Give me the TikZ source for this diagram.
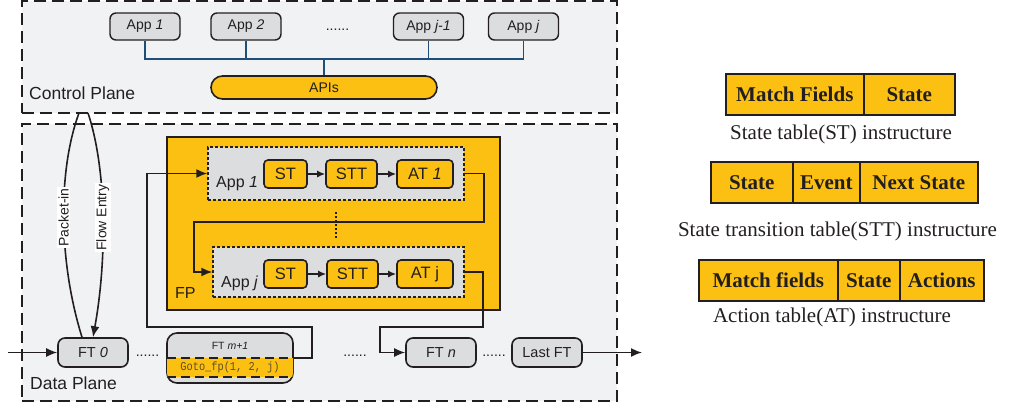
\documentclass[tikz,border=0pt]{standalone}
\usepackage{fontspec}
\setmainfont{Liberation Serif}
\setsansfont{Liberation Sans}
\setmonofont{Liberation Mono}
\newfontfamily\gotofont[FakeStretch=0.86]{Liberation Mono}
\usetikzlibrary{arrows.meta,calc}
\definecolor{ylw}{HTML}{FBC012}
\definecolor{gbox}{HTML}{DCDDDF}
\definecolor{plane}{HTML}{F1F2F4}
\definecolor{busblue}{HTML}{1F4E79}
\definecolor{edge}{HTML}{231F20}
\definecolor{gototxt}{HTML}{5E4E22}
\newcommand{\fsz}[1]{\fontsize{#1}{#1}\selectfont}
\begin{document}
\begin{tikzpicture}[x=1pt,y=-1pt,
  every node/.style={text=edge},
  planebox/.style={draw=edge, fill=plane, line width=1.8pt, dash pattern=on 12pt off 6pt, inner sep=0pt},
  appbox/.style={draw=edge, fill=gbox, rounded corners=6pt, line width=1.4pt, minimum width=70pt, minimum height=27pt, inner sep=0pt, font=\sffamily\fsz{14}},
  ftbox/.style={draw=edge, fill=gbox, rounded corners=7pt, line width=1.6pt, minimum width=70pt, minimum height=29pt, inner sep=0pt, font=\sffamily\fsz{14.5}},
  tbl/.style={draw=edge, fill=ylw, rounded corners=4pt, line width=1.6pt, minimum height=28pt, inner sep=0pt, font=\sffamily\fsz{16.5}},
  fpapp/.style={draw=edge, fill=gbox, line width=1.4pt, dash pattern=on 3pt off 2pt, inner sep=0pt},
  cell/.style={draw=edge, fill=ylw, line width=1.6pt, minimum height=41pt, inner sep=0pt, anchor=west, font=\rmfamily\bfseries\fsz{21}},
  capt/.style={font=\rmfamily\fsz{21}},
  conn/.style={draw=edge, line width=1.6pt},
  arr/.style={conn, -{Latex[length=11pt,width=9pt]}},
  sarr/.style={conn, -{Latex[length=8pt,width=7pt]}},
  bus/.style={draw=busblue, line width=1.4pt},
  lbl/.style={fill=white, rotate=90, inner sep=1.5pt, font=\sffamily\fsz{14}},
  dots/.style={font=\sffamily\fsz{14}, anchor=base, inner sep=0pt},
  plabel/.style={font=\sffamily\fsz{17.5}, anchor=west, inner sep=0pt}
]
\useasboundingbox (0,0) rectangle (1021,408);

% planes
\node[planebox, minimum width=595pt, minimum height=112pt] (cp) at (319.5,57) {};
\node[planebox, minimum width=595pt, minimum height=277pt] (dp) at (319.5,262.5) {};
\node[plabel] (cplabel) at (29,93) {Control Plane};
\node[plabel] (dplabel) at (30,383) {Data Plane};

% control plane apps
\node[appbox] (a1) at (145,26.5) {App \textit{1}};
\node[appbox] (a2) at (246,26.5) {App \textit{2}};
\node[dots] (adots) at (337.5,30) {......};
\node[appbox] (aj1) at (428.5,26.5) {App \textit{j-1}};
\node[appbox] (aj) at (523.5,26.5) {App \textit{j}};
\node[draw=edge, fill=ylw, rounded corners=11.5pt, line width=1.6pt, minimum width=226pt, minimum height=23pt, inner sep=0pt, font=\sffamily\fsz{14}] (apis) at (324,87.5) {APIs};

\coordinate (busL) at (145,59);
\draw[bus] (a1.south) -- (a1.south |- busL) -| (aj.south);
\draw[bus] (a2.south) -- (a2.south |- busL);
\draw[bus] (aj1.south) -- (aj1.south |- busL);
\draw[bus] (apis.north) -- (apis.north |- busL);

% FP
\node[draw=edge, fill=ylw, line width=1.9pt, minimum width=333pt, minimum height=173pt, inner sep=0pt] (fp) at (333.5,223.5) {};
\node[font=\sffamily\fsz{16}, anchor=west, inner sep=0pt] (fplabel) at (175,293) {FP};

\node[fpapp, minimum width=256pt, minimum height=53pt] (app1) at (336,173.5) {};
\node[fpapp, minimum width=251pt, minimum height=50pt] (appj) at (338.5,272) {};
\node[font=\sffamily\fsz{16}, anchor=west, inner sep=0pt] (app1l) at (216,184) {App \textit{1}};
\node[font=\sffamily\fsz{16}, anchor=west, inner sep=0pt] (appjl) at (221,283) {App \textit{j}};

\node[tbl, minimum width=43pt] (st1) at (285.5,174) {ST};
\node[tbl, minimum width=51pt] (stt1) at (351.5,174) {STT};
\node[tbl, minimum width=56pt] (at1) at (425,174) {AT \textit{1}};
\node[tbl, minimum width=43pt] (stj) at (285.5,274) {ST};
\node[tbl, minimum width=51pt] (sttj) at (352.5,274) {STT};
\node[tbl, minimum width=56pt] (atj) at (425,274) {AT j};
\draw[sarr] (st1) -- (stt1);
\draw[sarr] (stt1) -- (at1);
\draw[sarr] (stj) -- (sttj);
\draw[sarr] (sttj) -- (atj);
\coordinate (vd1) at (336,212);
\coordinate (vd2) at (336,238);
\draw[draw=edge, line width=1.3pt, dash pattern=on 1.5pt off 2.5pt] (vd1) -- (vd2);

% data plane FTs
\node[ftbox] (ft0) at (93,352.5) {FT \textit{0}};
\node[draw=edge, fill=gbox, rounded corners=10pt, line width=1.6pt, minimum width=126pt, minimum height=50pt, inner sep=0pt] (ftm) at (230,358) {};
\begin{scope}
\clip[rounded corners=10pt] (167,333) rectangle (293,383);
\fill[ylw] (165,358) rectangle (295,377);
\draw[draw=edge, line width=1.6pt, dash pattern=on 9pt off 5pt] (167,358) -- (293,358);
\draw[draw=edge, line width=1.6pt, dash pattern=on 9pt off 5pt] (167,377) -- (293,377);
\end{scope}
\node[font=\sffamily\fsz{10.5}, inner sep=0pt] (ftmt) at (230,346) {FT \textit{m+1}};
\node[font=\gotofont\fsz{12}, text=gototxt, inner sep=0pt] (goto) at (230,367.5) {Goto\_fp(1, 2, j)};
\node[ftbox] (ftn) at (441,352.5) {FT \textit{n}};
\node[ftbox] (last) at (547,352.5) {Last FT};
\node[dots] (d1) at (147.5,356) {......};
\node[dots] (d2) at (355,356) {......};
\node[dots] (d3) at (494,356) {......};

\coordinate (inp) at (8,352.5);
\coordinate (outp) at (642,352.5);
\draw[arr] (inp) -- (ft0.west);
\draw[arr] (last.east) -- (outp);

% loops
\draw[arr] (ftm.east) -| (312,327) -| (147,173.5) -- (app1.west);
\draw[arr] (app1.east) -| (484,222) -| (194,272) -- (appj.west);
\draw[arr] (appj.east) -| (483,327) -| (380,352.5) -- (ftn.west);

% packet-in / flow entry
\coordinate (pin) at (79,113);
\coordinate (fen) at (88,113);
\draw[conn] ([xshift=-11pt]ft0.north) .. controls (58,260) and (58,170) .. (pin) node[lbl, pos=0.5] {Packet-in};
\draw[arr] (fen) .. controls (107,170) and (107,260) .. (ft0.north) node[lbl, pos=0.5] {Flow Entry};

% right tables
\node[cell, minimum width=138pt] (c11) at (725,94.5) {Match Fields};
\node[cell, minimum width=91pt] (c12) at (863,94.5) {State};
\node[capt] (cap1) at (841,134) {State table(ST) instructure};
\node[cell, minimum width=82pt] (c21) at (710,182.5) {State};
\node[cell, minimum width=67pt] (c22) at (792,182.5) {Event};
\node[cell, minimum width=118pt] (c23) at (859,182.5) {Next State};
\node[capt] (cap2) at (837.5,231) {State transition table(STT) instructure};
\node[cell, minimum width=139pt] (c31) at (698,280.5) {Match fields};
\node[cell, minimum width=62pt] (c32) at (837,280.5) {State};
\node[cell, minimum width=84pt] (c33) at (899,280.5) {Actions};
\node[capt] (cap3) at (832,317) {Action table(AT) instructure};
\end{tikzpicture}
\end{document}
